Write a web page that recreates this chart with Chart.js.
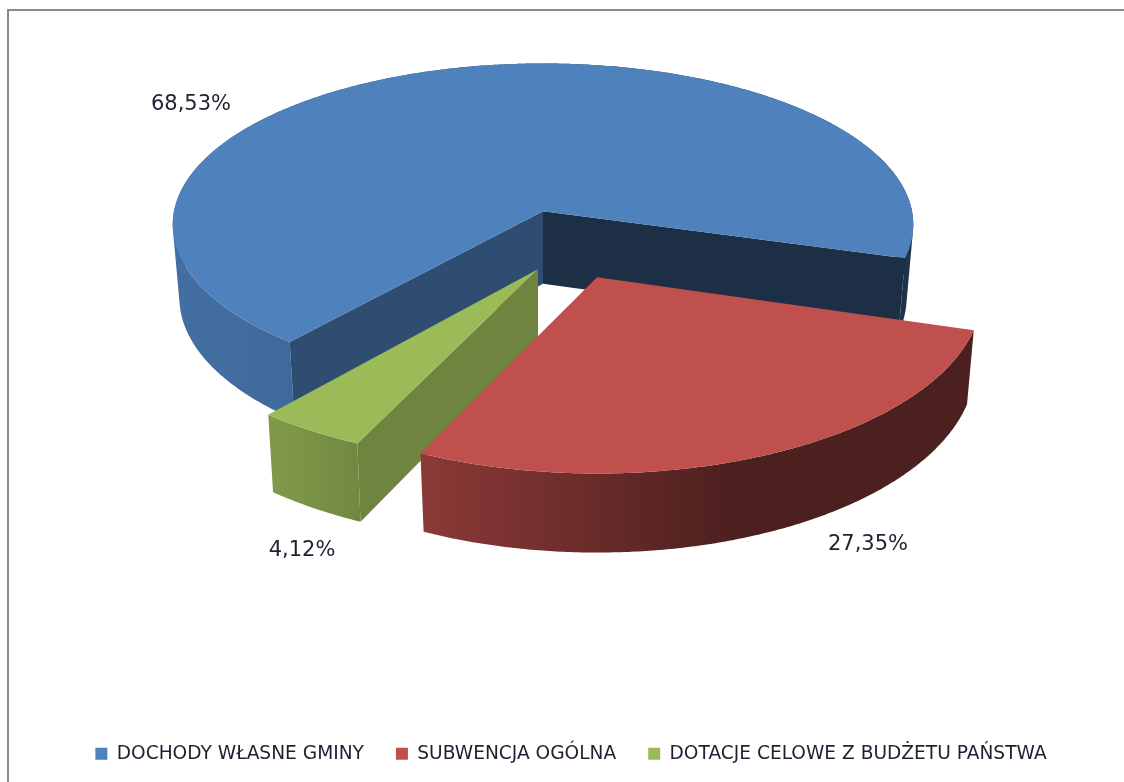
<!DOCTYPE html>
<html><head><meta charset="utf-8">
<style>
html,body{margin:0;padding:0;background:#fff;overflow:hidden}
#wrap{position:absolute;left:0;top:0;width:1124px;height:782px;overflow:hidden}
#frame{position:absolute;left:7px;top:9px;width:1300px;height:900px;border:2px solid #8a8a8a;box-sizing:border-box;pointer-events:none}
canvas{position:absolute;left:0;top:0}
</style>
<script src="https://cdn.jsdelivr.net/npm/chart.js@4"></script>
</head><body>
<div id="wrap"><div id="frame"></div><canvas id="c" width="1124" height="782"></canvas></div>
<script>
const categories = ['DOCHODY WŁASNE GMINY','SUBWENCJA OGÓLNA','DOTACJE CELOWE Z BUDŻETU PAŃSTWA'];
const seriesValues = [68.53,27.35,4.12];
const valueLabels = ['68,53%','27,35%','4,12%'];
const topColors = ['#4F81BD','#C0504D','#9BBB59'];

const K = 0.083, DEPTH = 72.5;
// pose of each exploded slice, relative to the pie centre
const poses = [
  {dx:-28, dy:-145, rx:369, ry:160, walls:{start:0.60,end:0.37}, label:[-352,-107]},
  {dx: 26, dy: -79, rx:384, ry:180, walls:{start:0.71,end:0.37}, label:[271,267]},
  {dx:-33, dy: -87, rx:393, ry:178, walls:{start:0.71,end:0.60}, label:[-236,281]}
];
function shade(hex,f){
  const n=parseInt(hex.slice(1),16);
  return `rgb(${((n>>16)&255)*f|0},${((n>>8)&255)*f|0},${(n&255)*f|0})`;
}
function outerShade(u){ // rim facing, by cosine of the angle
  if(u<=-0.64) return Math.min(0.86,0.82+(-0.64-u)*0.12);
  if(u<=-0.43) return 0.72+(-0.43-u)*0.476;
  if(u>=0.35) return 0.40;
  return 0.72-(u+0.43)*0.41;
}
const tiltPlugin={
  id:'tilt',
  beforeDatasetDraw(chart){
    const ctx=chart.ctx, meta=chart.getDatasetMeta(0);
    const order=[0,2,1];
    ctx.save();
    ctx.lineJoin='round';
    order.forEach(i=>{
      const el=meta.data[i], p=poses[i], col=topColors[i];
      const ax=el.x+p.dx, ay=el.y+p.dy;
      const a0=el.startAngle, a1=el.endAngle;
      const P=(th,r,low)=>{
        const u=Math.cos(th), v=Math.sin(th), s=1/(1-K*v*r);
        const xs=low?0.982:1;
        return [ax+p.rx*u*r*s*xs, ay+p.ry*v*r*s+(low?DEPTH*s:0)];
      };
      const steps=Math.ceil((a1-a0)/(Math.PI/360));
      const at=j=>a0+(a1-a0)*j/steps;
      // rim, shaded across x: one path of same-wound quads
      const span=p.rx*1.02;
      const g=ctx.createLinearGradient(ax-span,0,ax+span,0);
      for(let q=0;q<=40;q++){
        g.addColorStop(q/40,shade(col,outerShade(-1+q/20)));
      }
      ctx.beginPath();
      for(let j=0;j<steps;j++){
        let pts=[P(at(j),1,false),P(at(j+1),1,false),P(at(j+1),1,true),P(at(j),1,true)];
        let area=0;
        pts.forEach((a,n)=>{const b=pts[(n+1)%4];area+=a[0]*b[1]-b[0]*a[1];});
        if(area<0) pts.reverse();
        pts.forEach((a,n)=>n?ctx.lineTo(...a):ctx.moveTo(...a));
        ctx.closePath();
      }
      ctx.fillStyle=g;ctx.fill();
      // flat faces of the cut, only when they face the viewer
      [[a0,p.walls.start,a0-Math.PI/2],[a1,p.walls.end,a1+Math.PI/2]].forEach(([t,f,n])=>{
        if(Math.sin(n)<=0) return;
        ctx.beginPath();
        ctx.moveTo(...P(t,0,false));ctx.lineTo(...P(t,1,false));ctx.lineTo(...P(t,1,true));ctx.lineTo(...P(t,0,true));
        ctx.closePath();
        ctx.fillStyle=shade(col,f);ctx.fill();
      });
      // top
      ctx.beginPath();
      ctx.moveTo(...P(a0,0,false));
      for(let j=0;j<=steps;j++){ctx.lineTo(...P(at(j),1,false));}
      ctx.closePath();
      ctx.fillStyle=col;ctx.fill();
    });
    // value labels
    ctx.font='21px "DejaVu Sans"';
    ctx.fillStyle='#1f2030';
    ctx.textAlign='center';ctx.textBaseline='middle';
    order.forEach(i=>{
      const el=meta.data[i], p=poses[i];
      ctx.fillText(valueLabels[i],el.x+p.dx+p.label[0],el.y+p.dy+p.label[1]);
    });
    ctx.restore();
    return false;
  }
};
new Chart(document.getElementById('c'),{
  type:'pie',
  data:{labels:categories,datasets:[{data:seriesValues,backgroundColor:topColors,borderWidth:0}]},
  options:{
    responsive:false,animation:false,
    rotation:220,radius:300,
    layout:{padding:{bottom:9,left:18,right:0,top:0}},
    plugins:{
      tooltip:{enabled:false},
      legend:{position:'bottom',labels:{boxWidth:12,boxHeight:12,padding:32,color:'#1f2030',font:{family:'"DejaVu Sans"',size:18.6}}}
    }
  },
  plugins:[tiltPlugin]
});
</script>
</body></html>
